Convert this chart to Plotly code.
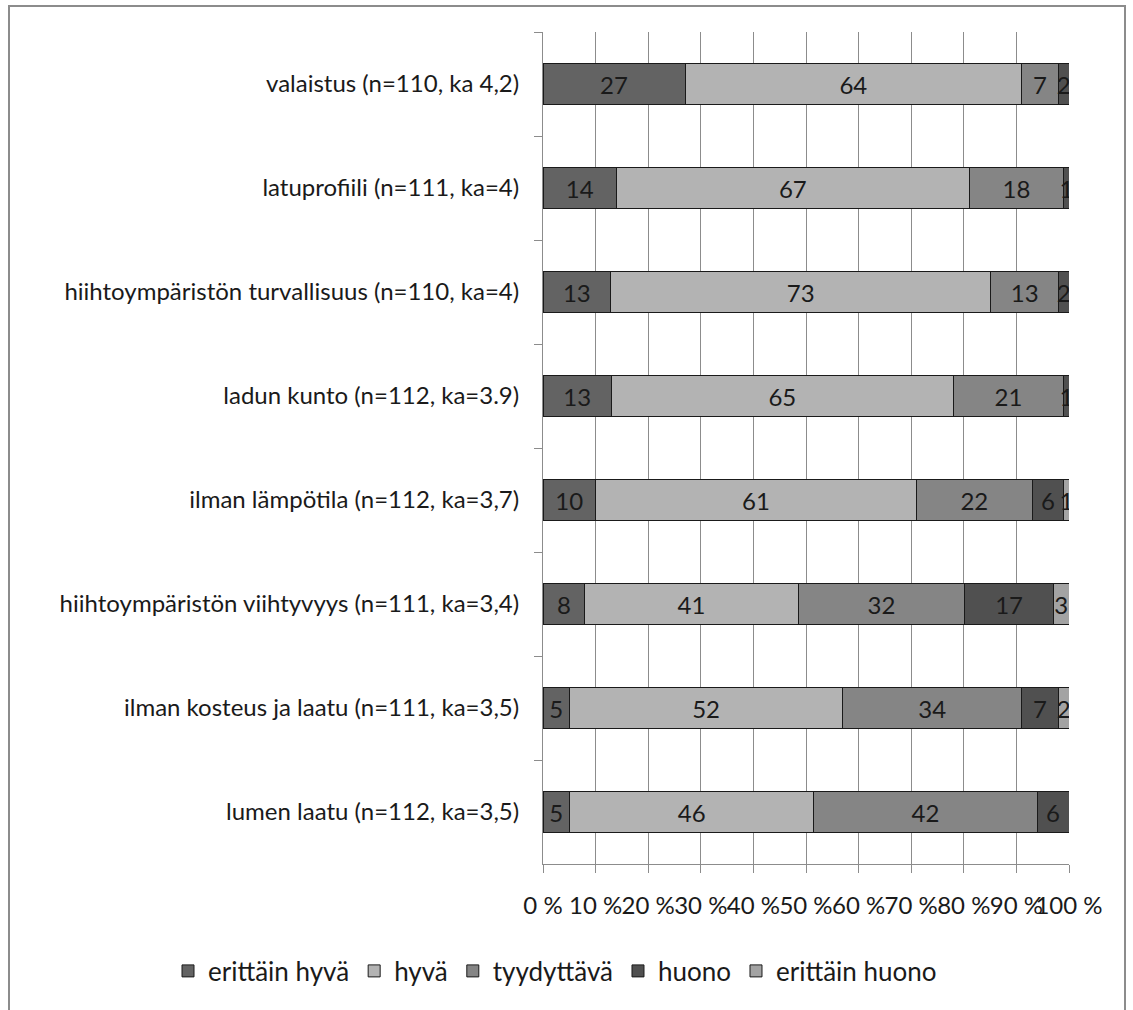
import plotly.graph_objects as go

categories = [
    "valaistus (n=110, ka 4,2)",
    "latuprofiili (n=111, ka=4)",
    "hiihtoympäristön turvallisuus (n=110, ka=4)",
    "ladun kunto (n=112, ka=3.9)",
    "ilman lämpötila (n=112, ka=3,7)",
    "hiihtoympäristön viihtyvyys (n=111, ka=3,4)",
    "ilman kosteus ja laatu (n=111, ka=3,5)",
    "lumen laatu (n=112, ka=3,5)",
]
series_names = ["erittäin hyvä", "hyvä", "tyydyttävä", "huono", "erittäin huono"]
erittain_hyva = [27, 14, 13, 13, 10, 8, 5, 5]
hyva = [64, 67, 73, 65, 61, 41, 52, 46]
tyydyttava = [7, 18, 13, 21, 22, 32, 34, 42]
huono = [2, 1, 2, 1, 6, 17, 7, 6]
erittain_huono = [0, 0, 0, 0, 1, 3, 2, 0]
colors = ["#636363", "#b3b3b3", "#858585", "#505050", "#a3a3a3"]
tick_vals = [0, 10, 20, 30, 40, 50, 60, 70, 80, 90, 100]
tick_text = ["0 %", "10 %", "20 %", "30 %", "40 %", "50 %", "60 %", "70 %", "80 %", "90 %", "100 %"]

FONT = "Lato"
FS = 24
W, H = 1133, 1010
L, T, PW, PH = 543, 32, 526, 832

fig = go.Figure()
for name, vals, col in zip(series_names,
                           [erittain_hyva, hyva, tyydyttava, huono, erittain_huono],
                           colors):
    fig.add_trace(go.Bar(
        y=categories, x=vals, name=name, orientation="h",
        marker=dict(color=col, line=dict(color="#1a1a1a", width=1)),
        text=[str(v) if v > 0 else "" for v in vals],
        textposition="inside", insidetextanchor="middle",
        textangle=0, constraintext="none",
        textfont=dict(family=FONT, size=FS, color="#1a1a1a"),
        width=0.4,
    ))

fig.update_layout(
    barmode="stack", barnorm="percent",
    width=W, height=H, autosize=False,
    margin=dict(l=L, r=W - L - PW, t=T, b=H - T - PH, autoexpand=False),
    paper_bgcolor="white", plot_bgcolor="white",
    font=dict(family=FONT, size=FS, color="#1a1a1a"),
    legend=dict(orientation="h", xref="paper", x=(168 - L) / PW, xanchor="left",
                yref="paper", y=(T + PH - 971) / PH, yanchor="middle",
                font=dict(family=FONT, size=26, color="#1a1a1a"),
                traceorder="normal", itemwidth=30, tracegroupgap=0),
    showlegend=True,
    xaxis=dict(range=[0, 100], tickvals=tick_vals, ticktext=tick_text,
               showgrid=True, gridcolor="#8c8c8c", gridwidth=1,
               showline=True, linecolor="#8c8c8c", linewidth=1,
               ticks="outside", ticklen=8, tickcolor="#8c8c8c", tickangle=0,
               tickfont=dict(family=FONT, size=FS, color="#1a1a1a"),
               ticklabelstandoff=12,
               zeroline=False, fixedrange=True, automargin=False),
    yaxis=dict(autorange="reversed", type="category",
               showgrid=False, showline=True, linecolor="#8c8c8c", linewidth=1,
               ticks="outside", ticklen=8, tickcolor="#8c8c8c", tickson="boundaries",
               tickfont=dict(family=FONT, size=FS, color="#1a1a1a"),
               ticklabelstandoff=18, automargin=False),
    shapes=[dict(type="rect", xref="paper", yref="paper",
                 x0=(9 - L) / PW, x1=(1125 - L) / PW,
                 y0=(T + PH - 1015) / PH, y1=1 + (T - 6) / PH,
                 line=dict(color="#8c8c8c", width=2), fillcolor="rgba(0,0,0,0)",
                 layer="below")],
)

fig.write_html("out.html", config={"displayModeBar": False},
               post_script="document.body.style.margin='0';document.body.style.overflow='hidden';")
